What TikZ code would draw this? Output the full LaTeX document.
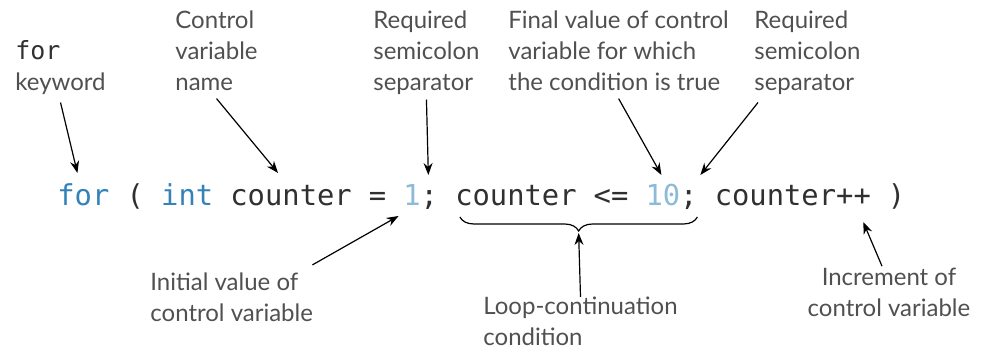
\documentclass[tikz,border=0pt]{standalone}
\usepackage{fontspec}
\setmainfont{Lato}
\setmonofont{DejaVu Sans Mono}
\usetikzlibrary{positioning, arrows.meta, calc, decorations.pathreplacing}
\definecolor{CodeGray}{RGB}{48,48,48}
\definecolor{KeyBlue}{RGB}{52,130,186}
\definecolor{LitBlue}{RGB}{140,186,216}
\definecolor{NoteGray}{RGB}{80,80,80}
\tikzset{
  code/.style={font=\ttfamily\fontsize{14.4}{16}\selectfont, text=CodeGray, inner sep=0pt, anchor=base west},
  kw/.style={code, text=KeyBlue},
  lit/.style={code, text=LitBlue},
  note/.style={font=\fontsize{12}{15.5}\selectfont, text=NoteGray, align=left, inner sep=0pt, anchor=base west},
  pointer/.style={-{Stealth[length=6pt,width=4.5pt]}, line width=0.6pt, black},
}
\newcommand{\cw}{17.3}   % width of one code character
\newcommand{\cx}{57}     % left edge of the code line
\newcommand{\cy}{206}    % baseline of the code line

\begin{document}
\begin{tikzpicture}[x=0.5pt, y=-0.5pt]
  \useasboundingbox (0,0) rectangle (982,352);

  % The for statement header
  \node[kw]   (kwfor)   at ({\cx+0*\cw},\cy)  {for};
  \node[code] (lparen)  at ({\cx+4*\cw},\cy)  {(};
  \node[kw]   (kwint)   at ({\cx+6*\cw},\cy)  {int};
  \node[code] (ctrinit) at ({\cx+10*\cw},\cy) {counter};
  \node[code] (assign)  at ({\cx+18*\cw},\cy) {=};
  \node[lit]  (one)     at ({\cx+20*\cw},\cy) {1};
  \node[code] (semia)   at ({\cx+21*\cw},\cy) {;};
  \node[code] (ctrtest) at ({\cx+23*\cw},\cy) {counter};
  \node[code] (lesseq)  at ({\cx+31*\cw},\cy) {<=};
  \node[lit]  (ten)     at ({\cx+34*\cw},\cy) {10};
  \node[code] (semib)   at ({\cx+36*\cw},\cy) {;};
  \node[code] (ctrinc)  at ({\cx+38*\cw},\cy) {counter++};
  \node[code] (rparen)  at ({\cx+48*\cw},\cy) {)};

  % Labels above (placed at the baseline of their last line)
  \node[note] (lblfor)   at (15,91)  {{\ttfamily\fontsize{12.5}{15.5}\selectfont\color{CodeGray}for}\\keyword};
  \node[note] (lblctrl)  at (175,91) {Control\\variable\\name};
  \node[note] (lblreqa)  at (373,91) {Required\\semicolon\\separator};
  \node[note] (lblfinal) at (508,91) {Final value of control\\variable for which\\the condition is true};
  \node[note] (lblreqb)  at (754,91) {Required\\semicolon\\separator};

  % Labels below
  \node[note] (lblinit)  at (150,322) {Initial value of\\control variable};
  \node[note] (lblloop)  at (483,346) {Loop-continuation\\condition};
  \node[note, align=center, anchor=base] (lblinc) at (889,317) {Increment of\\control variable};

  % Brace under the condition
  \coordinate (bracel) at ($(ctrtest.base west)+(5,11)$);
  \coordinate (bracer) at ($(semib.base)+(8.5,11)$);
  \coordinate (bracetip) at ($(bracel)!0.5!(bracer)+(0,16)$);
  \draw[decorate, decoration={brace, mirror, amplitude=7pt}, line width=0.6pt] (bracel) -- (bracer);

  % Pointers
  \draw[pointer] ($(lblfor.south)+(0,7)$)     -- ($(kwfor.base)+(-6,-33)$);
  \draw[pointer] ($(lblctrl.south)+(0,7)$)    -- ($(ctrinit.base)+(-13,-33)$);
  \draw[pointer] ($(lblreqa.south)+(0,4)$)    -- ($(semia.base)+(-1,-31)$);
  \draw[pointer] ($(lblfinal.south)+(0,7)$)   -- ($(ten.base)+(-1.5,-31)$);
  \draw[pointer] ($(lblreqb.south west)+(4,7)$) -- ($(semib.base)+(11.5,-31)$);
  \draw[pointer] ($(lblinit.north east)+(-1,-8)$) -- ($(one.base)+(-13.5,10)$);
  \draw[pointer] (lblloop.north)              -- (bracetip);
  \draw[pointer] ($(lblinc.north)+(-7,-2)$)   -- ($(ctrinc.base east)+(-8,16)$);
\end{tikzpicture}
\end{document}
